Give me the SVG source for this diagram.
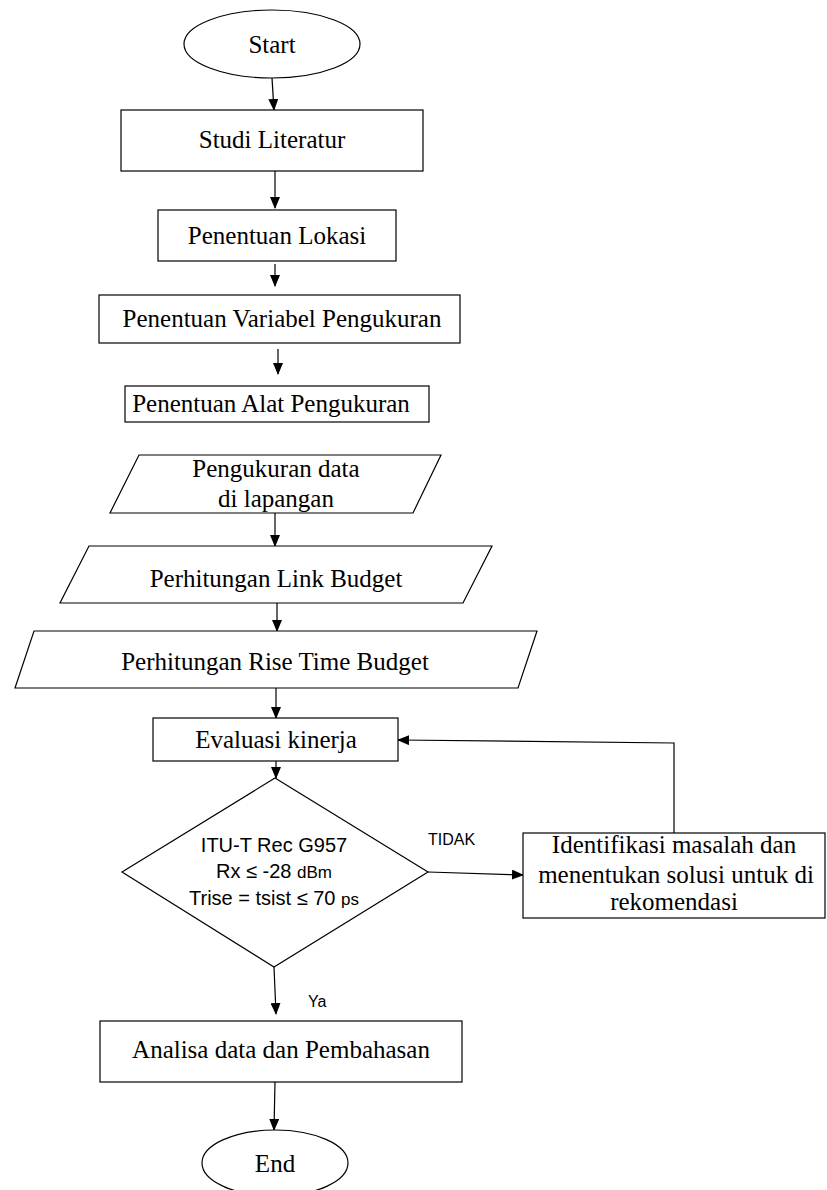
<svg xmlns="http://www.w3.org/2000/svg" width="827" height="1190" viewBox="0 0 827 1190">
<style>
.s{fill:#fff;stroke:#000;stroke-width:1.2}
.t{font-family:"Liberation Serif","Times New Roman",serif;font-size:25px;fill:#000;text-anchor:middle}
.a{font-family:"Liberation Sans",Arial,sans-serif;font-size:20px;fill:#000;text-anchor:middle}
.l{font-family:"Liberation Sans",Arial,sans-serif;font-size:16px;fill:#000}
.c{fill:none;stroke:#000;stroke-width:1.2;marker-end:url(#ah)}
</style>
<defs>
<marker id="ah" markerWidth="12" markerHeight="10" refX="11" refY="5" orient="auto" markerUnits="userSpaceOnUse">
<path d="M0,0 L12,5 L0,10 Z" fill="#000"/>
</marker>
</defs>
<rect width="827" height="1190" fill="#fff"/>
<g id="connectors">
<path class="c" d="M272,78 L274,110"/>
<path class="c" d="M275,171 L275,208"/>
<path class="c" d="M275,264 L275,286"/>
<path class="c" d="M278,349 L278,374"/>
<path class="c" d="M275,513 L275,546"/>
<path class="c" d="M277,603 L277,631"/>
<path class="c" d="M276,688 L276,718"/>
<path class="c" d="M276,761 L276,778"/>
<path class="c" d="M428,872 L523,875"/>
<path class="c" d="M674,833 L674,743 L398,740"/>
<path class="c" d="M274,967 L276,1014"/>
<path class="c" d="M275,1082 L274,1130"/>
</g>
<g id="start"><ellipse class="s" cx="272" cy="44" rx="88" ry="34"/><text class="t" x="272" y="53">Start</text></g>
<g id="studi"><rect class="s" x="121" y="110" width="302" height="61"/><text class="t" x="272" y="148">Studi Literatur</text></g>
<g id="lokasi"><rect class="s" x="158" y="210" width="238" height="51"/><text class="t" x="277" y="244">Penentuan Lokasi</text></g>
<g id="variabel"><rect class="s" x="99" y="295" width="361" height="48"/><text class="t" x="282" y="327">Penentuan Variabel Pengukuran</text></g>
<g id="alat"><rect class="s" x="125" y="386" width="304" height="36"/><text class="t" x="271" y="412">Penentuan Alat Pengukuran</text></g>
<g id="pengukuran"><polygon class="s" points="139,455 441,455 413,513 110,513"/><text class="t" x="276" y="477">Pengukuran data</text><text class="t" x="276" y="507">di lapangan</text></g>
<g id="linkbudget"><polygon class="s" points="89,546 492,546 463,603 60,603"/><text class="t" x="276" y="587">Perhitungan Link Budget</text></g>
<g id="risetime"><polygon class="s" points="34,631 537,631 518,688 15,688"/><text class="t" x="275" y="670">Perhitungan Rise Time Budget</text></g>
<g id="evaluasi"><rect class="s" x="153" y="718" width="245" height="43"/><text class="t" x="276" y="748">Evaluasi kinerja</text></g>
<g id="keputusan"><polygon class="s" points="275,778 428,872 274,967 122,872"/>
<text class="a" x="274" y="852">ITU-T Rec G957</text>
<text class="a" x="274" y="878">Rx ≤ -28 <tspan font-size="17">dBm</tspan></text>
<text class="a" x="274" y="905">Trise = tsist ≤ 70 <tspan font-size="17">ps</tspan></text></g>
<g id="identifikasi"><rect class="s" x="523" y="833" width="302" height="85"/>
<text class="t" x="674" y="853">Identifikasi masalah dan</text>
<text class="t" x="676" y="883">menentukan solusi untuk di</text>
<text class="t" x="674" y="910">rekomendasi</text></g>
<g id="analisa"><rect class="s" x="100" y="1021" width="362" height="61"/><text class="t" x="281" y="1058">Analisa data dan Pembahasan</text></g>
<g id="end"><ellipse class="s" cx="275" cy="1163" rx="73" ry="33"/><text class="t" x="275" y="1172">End</text></g>
<g id="labels"><text class="l" x="428" y="845">TIDAK</text><text class="l" x="308" y="1007">Ya</text></g>
</svg>
